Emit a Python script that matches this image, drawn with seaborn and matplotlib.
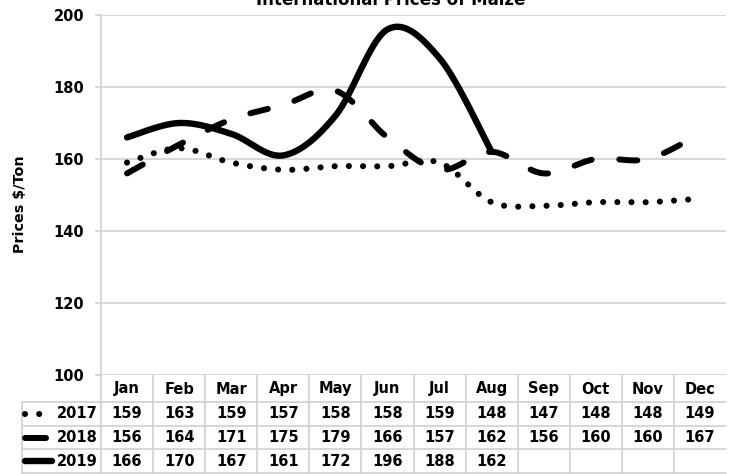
import numpy as np
import pandas as pd
import matplotlib
matplotlib.use("Agg")
import matplotlib.pyplot as plt
from matplotlib.lines import Line2D
import seaborn as sns

months = ["Jan", "Feb", "Mar", "Apr", "May", "Jun", "Jul", "Aug", "Sep", "Oct", "Nov", "Dec"]
years = ["2017", "2018", "2019"]
prices_2017 = [159, 163, 159, 157, 158, 158, 159, 148, 147, 148, 148, 149]
prices_2018 = [156, 164, 171, 175, 179, 166, 157, 162, 156, 160, 160, 167]
prices_2019 = [166, 170, 167, 161, 172, 196, 188, 162]
yticks = [100, 120, 140, 160, 180, 200]
title = "International Prices of Maize"
ylabel = "Prices $/Ton"

sns.set_theme(style="white")
plt.rcParams["font.family"] = ["DejaVu Sans"]
plt.rcParams["lines.scale_dashes"] = False
plt.rcParams["text.color"] = "black"
plt.rcParams["axes.labelcolor"] = "black"
plt.rcParams["ytick.color"] = "black"
plt.rcParams["xtick.color"] = "black"

W, H = 735, 474
fig = plt.figure(figsize=(W / 100, H / 100), dpi=100)
ax = fig.add_axes([101 / W, 1 - 375 / H, 625 / W, 360 / H])


def smooth(vals, n=40):
    """Excel-like smoothed curve (cubic Bezier, tension 1/6) through data points."""
    p = np.column_stack([np.arange(len(vals)), np.asarray(vals, float)])
    xs, ys = [], []
    for i in range(len(p) - 1):
        p0 = p[max(i - 1, 0)]
        p1 = p[i]
        p2 = p[i + 1]
        p3 = p[min(i + 2, len(p) - 1)]
        c1 = p1 + (p2 - p0) / 6
        c2 = p2 - (p3 - p1) / 6
        t = np.linspace(0, 1, n, endpoint=(i == len(p) - 2))[:, None]
        b = (1 - t) ** 3 * p1 + 3 * (1 - t) ** 2 * t * c1 + 3 * (1 - t) * t ** 2 * c2 + t ** 3 * p2
        xs.extend(b[:, 0]); ys.extend(b[:, 1])
    return np.array(xs), np.array(ys)


GRID = "#d0d0d0"
styles = {
    "2017": dict(lw=4.4, dashes=(0.01, 10.2), cap="round"),
    "2018": dict(lw=4.3, dashes=(13, 20), cap="round"),
    "2019": dict(lw=4.6, dashes=None, cap="round"),
}
series = {"2017": prices_2017, "2018": prices_2018, "2019": prices_2019}

for yr in years:
    sx, sy = smooth(series[yr])
    df = pd.DataFrame({"x": sx, "y": sy})
    sns.lineplot(data=df, x="x", y="y", ax=ax, sort=False, estimator=None, color="black")
    ln = ax.lines[-1]
    st = styles[yr]
    ln.set_linewidth(st["lw"])
    ln.set_solid_capstyle(st["cap"])
    ln.set_dash_capstyle(st["cap"])
    ln.set_solid_joinstyle("round")
    if st["dashes"] is not None:
        ln.set_dashes(st["dashes"])

ax.set_xlim(-0.5, 11.5)
ax.set_ylim(100, 200)
ax.set_yticks(yticks)
ax.set_yticklabels([str(v) for v in yticks], fontsize=10.5, fontweight="bold", color="black")
ax.set_xticks([])
ax.set_xlabel("")
ax.set_ylabel(ylabel, fontsize=10.3, fontweight="bold", color="black")
ax.yaxis.set_label_coords(-74 / 625, 0.475)
ax.grid(axis="y", color=GRID, lw=1.2)
ax.set_axisbelow(True)
for s in ["top", "right", "bottom"]:
    ax.spines[s].set_visible(False)
ax.spines["left"].set_color(GRID)
ax.spines["left"].set_linewidth(1.2)
ax.tick_params(axis="y", left=True, length=4, width=1.2, color=GRID, pad=8, labelcolor="black")

fig.text(391 / W, 1 - 5 / H, title, ha="center", va="baseline", fontsize=12, fontweight="bold",
         color="black")

# data table
def fx(x):
    return x / W

def fy(y):
    return 1 - y / H

col0 = 101
cw = 625 / 12
rows_y = [402, 426, 449, 473]
for yy in rows_y:
    fig.add_artist(Line2D([fx(22), fx(726)], [fy(yy), fy(yy)], color=GRID, lw=1.2))
for k in range(12):
    xx = col0 + cw * k
    fig.add_artist(Line2D([fx(xx), fx(xx)], [fy(375), fy(473)], color=GRID, lw=1.2))
fig.add_artist(Line2D([fx(22), fx(22)], [fy(402), fy(473)], color=GRID, lw=1.2))

for i, m in enumerate(months):
    fig.text(fx(col0 + cw * (i + 0.5)), fy(389), m, ha="center", va="center",
             fontsize=10.5, fontweight="bold", color="black")

row_centers = [414, 437.5, 461]
for r, yr in enumerate(years):
    yc = row_centers[r]
    for i, v in enumerate(series[yr]):
        fig.text(fx(col0 + cw * (i + 0.5)), fy(yc), str(v), ha="center", va="center",
                 fontsize=10.5, fontweight="bold", color="black")
    fig.text(fx(98), fy(yc), yr, ha="right", va="center", fontsize=10.5, fontweight="bold",
             color="black")
    st = styles[yr]
    if yr == "2017":
        xs = [25, 47]
    elif yr == "2018":
        xs = [25, 46]
    else:
        xs = [25, 52]
    key = Line2D([fx(xs[0]), fx(xs[1])], [fy(yc), fy(yc)], color="black", lw=st["lw"],
                 solid_capstyle="round", dash_capstyle="round")
    if yr == "2017":
        key.set_dashes((0.01, 10.2))
    elif yr == "2018":
        key.set_dashes((20, 20))
    fig.add_artist(key)

fig.savefig("out.png", dpi=100)
